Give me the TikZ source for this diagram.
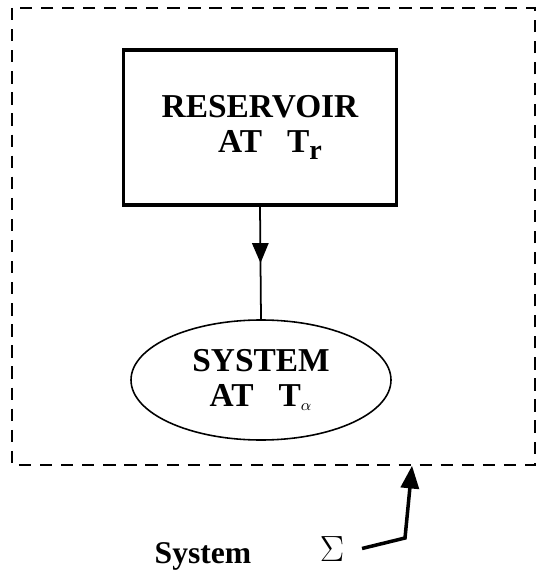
\documentclass[tikz,border=0pt]{standalone}
\usepackage{fontspec}
\setmainfont{Liberation Serif}
\usepackage{tikz}
\usetikzlibrary{arrows,calc,decorations.markings,shapes.geometric}

\tikzset{
	boxlabel/.style={font=\fontsize{19}{22}\selectfont\bfseries, align=center},
	midarrow/.style={decoration={markings, mark=at position 0.5 with {\arrow[scale=1.3]{triangle 45}}}, postaction={decorate}}
}

\begin{document}
\begin{tikzpicture}
	\useasboundingbox (0,0) rectangle (10.8,-11.56);
	\draw[dashed, line width=1.4pt, dash pattern=on 7pt off 5pt] (0.24,-0.16) rectangle (10.7,-9.3);
	\node[draw, line width=2pt, minimum width=5.46cm, minimum height=3.1cm, boxlabel] (res) at (5.2,-2.55) {RESERVOIR\\[-2pt]\hspace*{0.6em}AT\ \ \ T\raisebox{-0.45ex}{\fontsize{16}{16}\selectfont r}};
	\node[draw, ellipse, line width=0.9pt, minimum width=5.2cm, minimum height=2.4cm, boxlabel] (sys) at (5.22,-7.6) {SYSTEM\\[-2pt]AT\ \ \ T$_{\scriptscriptstyle\alpha}$};
	\draw[line width=1pt, midarrow] (res.south) -- (sys.north);
	% label below the boundary
	\node[font=\fontsize{18}{20}\selectfont\bfseries] (lbl) at (4.06,-11.12) {System};
	\node[font=\fontsize{22}{22}\selectfont] (sigma) at (6.64,-10.98) {$\Sigma$};
	\coordinate (tail) at (7.24,-10.97);
	\coordinate (bend) at (8.1,-10.76);
	\coordinate (hit) at (8.24,-9.32);
	\draw[line width=2pt, -triangle 45] (tail) -- (bend) -- (hit);
\end{tikzpicture}
\end{document}
